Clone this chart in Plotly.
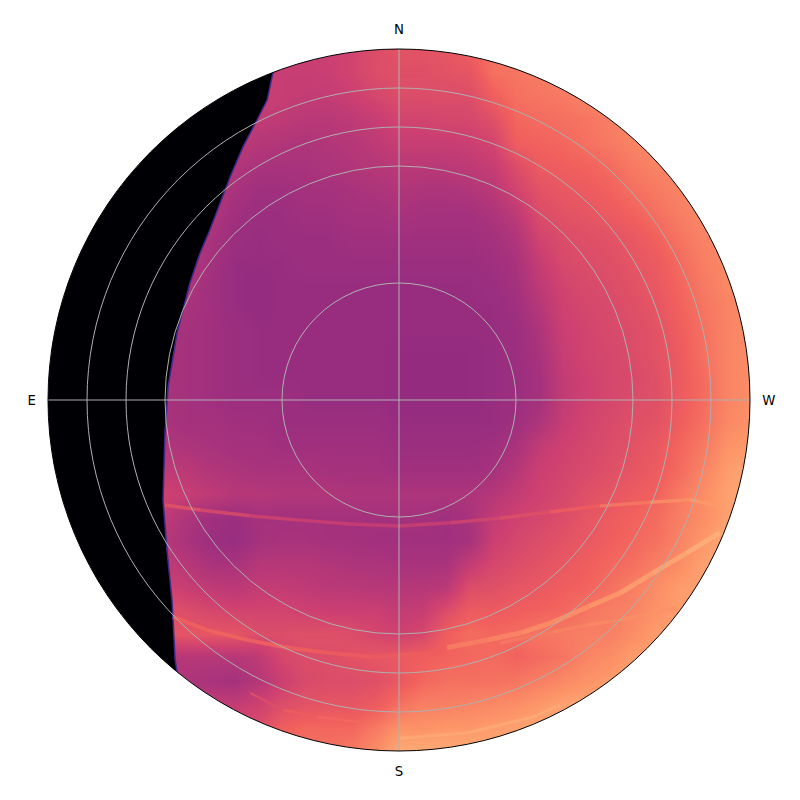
import numpy as np
import plotly.graph_objects as go
from plotly.colors import sample_colorscale

# grid of the sky map, degrees from zenith (x east-west, y north-south)
grid_x = list(range(-90, 91, 6))
grid_y = list(range(90, -91, -6))

# values in percent of the magma range, one row per grid_y, north first
sky = [
    [55,55,55,55,55,55,55,55,55,55,55,55,55,57,60,62,62,63,66,70,72,74,74,74,75,75,75,75,75,75,75],
    [54,54,54,54,54,54,54,54,54,54,54,54,55,57,60,61,61,62,63,70,71,72,74,75,75,75,75,75,75,75,75],
    [54,54,54,54,54,54,54,54,54,54,54,53,53,55,58,60,60,60,60,66,70,71,72,74,75,75,75,75,75,75,75],
    [53,53,53,53,53,53,53,53,53,53,52,51,51,52,54,57,57,58,58,61,68,69,70,71,73,75,75,75,75,75,75],
    [52,52,52,52,52,52,52,52,52,50,49,48,49,50,52,54,54,54,55,57,66,67,68,70,72,74,75,75,75,75,75],
    [52,52,52,52,52,52,52,52,49,47,47,47,48,49,50,51,51,51,52,54,60,65,66,67,69,72,74,75,75,75,75],
    [51,51,51,51,51,51,51,50,47,45,45,46,46,47,48,49,48,48,49,51,57,62,64,65,67,70,72,74,75,75,75],
    [51,51,51,51,51,51,51,49,45,44,44,45,45,46,46,47,46,46,46,48,52,60,62,63,65,67,70,73,75,75,75],
    [50,50,50,50,50,50,50,47,44,43,44,44,44,45,45,45,45,45,45,46,49,57,60,61,62,64,67,71,74,75,75],
    [50,50,50,50,50,50,49,46,43,43,43,44,44,44,44,44,44,44,44,45,47,54,59,60,61,63,65,69,73,75,75],
    [49,49,49,49,49,49,48,45,43,42,43,43,43,43,43,43,43,43,43,44,46,52,57,59,60,62,64,68,72,75,75],
    [48,48,48,48,48,48,47,45,43,42,43,43,43,43,43,43,43,43,43,43,45,50,56,58,59,61,63,67,71,74,75],
    [47,47,47,47,47,47,46,45,44,43,43,43,43,43,43,43,43,43,43,43,44,48,55,57,59,60,62,66,70,74,76],
    [47,47,47,47,47,47,46,45,44,43,43,43,43,43,43,42,42,42,42,43,44,47,54,57,58,60,62,65,70,74,76],
    [47,47,47,47,47,47,46,45,44,43,43,43,43,43,43,42,42,42,42,43,44,46,53,56,58,59,61,65,69,74,76],
    [47,47,47,47,47,47,46,45,44,44,44,43,43,43,43,42,42,42,42,43,44,46,53,56,58,60,61,65,69,74,76],
    [47,47,47,47,47,47,46,46,45,45,44,44,44,44,44,43,43,43,43,43,45,48,54,57,59,61,62,66,70,75,77],
    [49,49,49,49,49,49,48,47,46,46,45,45,45,45,45,44,44,44,44,45,47,53,56,58,60,62,64,68,72,77,79],
    [52,52,52,52,52,52,51,49,48,47,47,47,46,46,46,45,45,45,45,46,50,55,57,59,61,63,65,69,74,79,81],
    [56,56,56,56,56,56,54,52,50,50,49,49,49,48,48,48,48,48,48,50,53,56,58,61,63,65,67,72,76,80,82],
    [52,52,52,52,52,52,48,45,44,46,46,46,46,46,46,46,46,45,47,53,56,58,60,63,65,67,69,73,76,80,82],
    [50,50,50,50,50,50,47,44,43,46,47,47,46,46,45,45,45,45,46,55,58,60,62,64,66,68,70,74,78,82,82],
    [52,52,52,52,52,52,50,47,47,50,50,50,49,48,48,47,47,47,53,58,60,62,64,66,68,70,73,76,80,82,82],
    [56,56,56,56,56,56,54,52,51,53,53,52,51,51,50,50,50,51,60,61,63,64,66,67,70,73,76,79,80,82,82],
    [62,62,62,62,62,62,60,58,57,57,57,56,55,55,55,53,54,60,65,65,66,67,68,71,73,74,77,79,80,82,82],
    [62,62,62,62,62,62,63,63,63,60,60,61,61,60,58,56,58,66,69,68,69,71,72,73,73,76,79,80,80,82,82],
    [50,50,50,50,50,50,50,50,50,52,58,60,60,62,63,64,66,67,68,69,67,69,71,74,76,79,80,80,80,82,82],
    [48,48,48,48,48,48,48,47,46,50,55,59,60,60,61,64,68,70,70,70,71,73,75,77,79,80,80,80,80,82,82],
    [53,53,53,53,53,53,53,53,53,56,60,62,63,63,65,70,73,73,74,75,76,78,80,81,82,82,82,82,82,82,82],
    [60,60,60,60,60,60,60,60,60,60,66,68,68,68,72,77,77,78,78,79,80,81,82,82,82,82,82,82,82,82,82],
    [62,62,62,62,62,62,62,62,62,62,70,70,70,72,76,82,82,82,82,82,82,82,82,82,82,82,82,82,82,82,82],
]

# edge of the unlit part on the east side
dark_x = [-30, -32.3, -33.8, -36.4, -40, -43.3, -45.9, -48.5, -51, -53.6, -56.9, -59.2, -60, -60.5, -59.5, -58.2, -57.4, -56.9, -56, -100, -100]
dark_y = [95, 83.8, 76.9, 71.8, 64.9, 57.2, 50.5, 43.6, 37.7, 30, 17.2, 3.3, -8.5, -25.6, -38.5, -51.3, -66.7, -69.7, -95, -95, 95]

# bright bands: x, y, value, width in px
bands = [
    ([-60, -51, -38.2, -25.4, -12.6, 0, 13.1, 25.9, 38.7, 51.5, 64.4, 74.6, 81.3],
     [-26.9, -28.2, -29.7, -30.8, -31.8, -32.3, -31.5, -30.3, -28.7, -27.2, -26.2, -25.6, -26.9],
     [64, 62, 58, 56, 55, 55, 56, 59, 63, 69, 75, 78, 80], 3.5),
    ([-57.9, -49.2, -39, -27.9, -17.7, -6.7, 0.3, 11.3],
     [-55.6, -59, -61.5, -63.6, -64.9, -65.9, -65.4, -64.4],
     [66, 68, 68, 67, 66, 65, 65, 67], 4),
    ([12.3, 22.8, 31.3, 39.7, 48.5, 56.7, 65.1, 73.8, 82.3],
     [-63.5, -61.5, -59.7, -56.9, -53, -49.5, -44.4, -39.2, -34],
     [73, 74, 76, 77, 78, 80, 81, 83, 84], 5),
    ([25.9, 39.5, 48.2, 56.7, 65.1, 71.3],
     [-62.3, -59.5, -57.7, -56.4, -54.6, -53.3],
     [71, 73, 75, 76, 77, 77], 3.5),
    ([-38.2, -29.7, -21, -8.2],
     [-75.1, -79.5, -81.3, -82.8],
     [58, 64, 67, 70], 2.5),
    ([0, 17.4, 34.4, 41.3],
     [-86.7, -85.4, -81.3, -78.2],
     [82, 82, 83, 82], 3),
]

directions = ["N", "W", "S", "E"]
direction_angles = [0, 90, 180, 270]
zenith_rings = [30, 60, 70, 80, 90]

fig = go.Figure()

fig.add_trace(go.Heatmap(x=grid_x, y=grid_y[::-1], z=sky[::-1], zmin=0, zmax=100,
                         colorscale="Magma", zsmooth="best", showscale=False,
                         hoverinfo="skip"))

fig.add_trace(go.Scatter(x=dark_x, y=dark_y, mode="lines", fill="toself",
                         fillcolor="#000004", line=dict(color="#3f2a8c", width=1.5),
                         hoverinfo="skip"))

for bx, by, bv, bw in bands:
    for i in range(len(bx) - 1):
        c = sample_colorscale("Magma", (bv[i] + bv[i + 1]) / 200)[0]
        fig.add_trace(go.Scatter(x=bx[i:i + 2], y=by[i:i + 2], mode="lines", opacity=0.8,
                                 line=dict(color=c, width=bw), hoverinfo="skip"))

# white outside the horizon circle, circle runs the other way round to leave a hole
t = np.linspace(2 * np.pi, 0, 361)
mask_x = [-100, 100, 100, -100, -100, None] + list(90 * np.cos(t))
mask_y = [-100, -100, 100, 100, -100, None] + list(90 * np.sin(t))
fig.add_trace(go.Scatter(x=mask_x, y=mask_y, mode="lines", fill="toself",
                         fillcolor="white", line=dict(width=0), hoverinfo="skip"))

# the polar subplot only gives the rings, spokes and direction labels
fig.add_trace(go.Scatterpolar(r=[0], theta=[0], mode="markers", marker=dict(size=1, color="#b0b0b0"),
                              hoverinfo="skip"))

fig.update_layout(
    width=800, height=800, showlegend=False,
    margin=dict(l=48, r=50, t=49, b=49),
    paper_bgcolor="white", plot_bgcolor="white",
    xaxis=dict(range=[-90, 90], visible=False, domain=[0, 1]),
    yaxis=dict(range=[-90, 90], visible=False, domain=[0, 1]),
    font=dict(family="DejaVu Sans", size=13.3, color="black"),
    polar=dict(
        domain=dict(x=[0, 1], y=[0, 1]),
        bgcolor="rgba(0,0,0,0)",
        radialaxis=dict(range=[0, 90], tickvals=zenith_rings, showticklabels=False,
                        ticks="", showline=False, gridcolor="#b0b0b0", gridwidth=1),
        angularaxis=dict(direction="clockwise", rotation=90, tickmode="array",
                         tickvals=direction_angles, ticktext=directions,
                         ticks="outside", ticklen=9, tickcolor="rgba(0,0,0,0)",
                         tickfont=dict(family="DejaVu Sans", size=13.3, color="#000000"),
                         showline=True, linecolor="black", linewidth=1,
                         gridcolor="#b0b0b0", gridwidth=1),
    ),
)

fig.write_html("out.html", config=dict(displayModeBar=False),
               post_script="document.body.style.margin='0';")
